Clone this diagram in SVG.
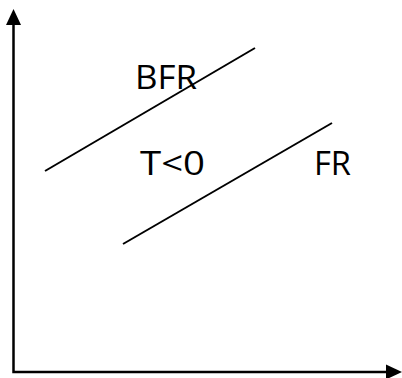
<svg xmlns="http://www.w3.org/2000/svg" width="402" height="378" viewBox="0 0 402 378">
<style>
.ax{stroke:#000;stroke-width:2.5;fill:none}
.ln{stroke:#000;stroke-width:2;fill:none}
.hd{fill:#000;stroke:none}
.t{font-family:"Open Sans","Liberation Sans",sans-serif;font-size:32px;fill:#000}
</style>
<g id="axes">
<polyline class="ax" points="13.5,22 13.5,372 390,372"/>
<polygon class="hd" points="13.5,9 21,25 6,25"/>
<polygon class="hd" points="402,372 386,364.5 386,379.5"/>
</g>
<g id="connectors">
<line class="ln" x1="45" y1="171" x2="255" y2="48"/>
<line class="ln" x1="123" y1="244" x2="332" y2="123"/>
</g>
<g id="label-bfr"><text class="t" x="135" y="89" textLength="62" lengthAdjust="spacingAndGlyphs">BFR</text></g>
<g id="label-t"><text class="t" x="140" y="175" font-size="33" textLength="65" lengthAdjust="spacingAndGlyphs">T&lt;0</text></g>
<g id="label-fr"><text class="t" x="314" y="175" textLength="37" lengthAdjust="spacingAndGlyphs">FR</text></g>
</svg>
